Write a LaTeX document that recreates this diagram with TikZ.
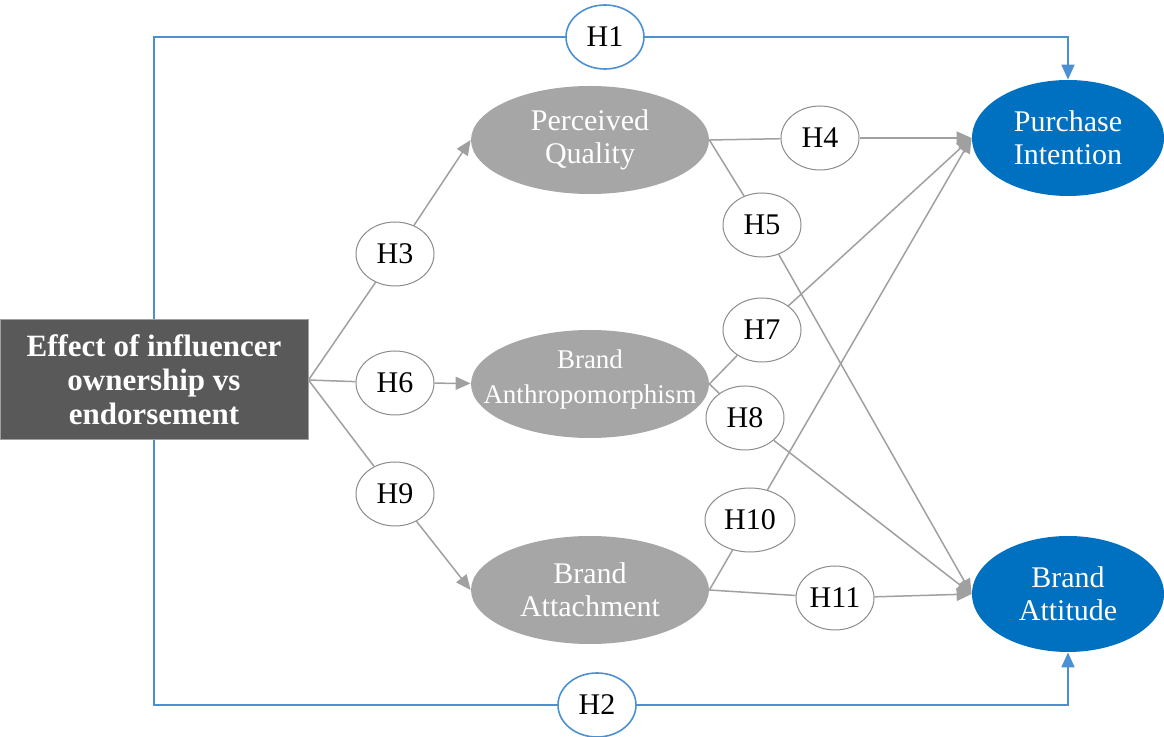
\documentclass[tikz,border=0pt]{standalone}
\usepackage{fontspec}
\setmainfont{Liberation Serif}
\usepackage{tikz}
\usetikzlibrary{shapes.geometric}
\usetikzlibrary{arrows.meta}
\definecolor{boxgray}{HTML}{595959}
\definecolor{ovalgray}{HTML}{A6A6A6}
\definecolor{ovalblue}{HTML}{0070C0}
\definecolor{linegray}{HTML}{A0A0A0}
\definecolor{rimgray}{HTML}{8C8C8C}
\definecolor{lineblue}{HTML}{4A90D2}
\tikzset{
  causebox/.style={rectangle, fill=boxgray, draw=linegray, line width=0.5pt, text=white,
    font=\fontsize{15.5}{17}\selectfont\bfseries, align=center,
    minimum width=154pt, minimum height=60pt, inner sep=0pt},
  mediator/.style={ellipse, fill=ovalgray, text=white, align=center,
    font=\fontsize{15}{16.5}\selectfont, minimum width=119pt, minimum height=54pt,
    inner xsep=-14pt, inner ysep=-8pt},
  outcome/.style={ellipse, fill=ovalblue, text=white, align=center,
    font=\fontsize{15}{16.5}\selectfont, minimum width=96pt, minimum height=58pt,
    inner sep=0pt},
  hyp/.style={ellipse, draw=rimgray, line width=0.5pt, fill=white,
    font=\fontsize{15}{16}\selectfont, minimum width=39pt, minimum height=32pt, inner sep=0pt},
  hypblue/.style={hyp, draw=lineblue, line width=0.8pt},
  link/.style={draw=linegray, line width=0.75pt},
  bluelink/.style={draw=lineblue, line width=0.9pt},
  arrowed/.style={-{Triangle[length=7.5pt,width=6.5pt]}},
}
\newcommand{\hnode}[5][]{\node[hyp,#1] (#2) at (#3,#4) {#5};}

\begin{document}
\begin{tikzpicture}[x=0.5pt,y=-0.5pt]
        \useasboundingbox (0,0) rectangle (1164,737);
        % outer paths (drawn first, behind)
        \hnode[hypblue]{h1}{605}{37}{H1}
        \hnode[hypblue]{h2}{597}{705}{H2}
        % constructs
        \node[causebox] (effect) at (154,380) {Effect of influencer\\ownership vs\\endorsement};
        \node[mediator] (quality) at (590,140) {Perceived\\Quality};
        \node[mediator, font=\fontsize{13.5}{17.5}\selectfont] (anthro) at (590,384) {Brand\\Anthropomorphism\\[-10pt]};
        \node[mediator] (attach) at (590,590) {Brand\\Attachment};
        \node[outcome] (intent) at (1068,138) {Purchase\\Intention};
        \node[outcome] (attitude) at (1068,594) {Brand\\Attitude};
        % hypotheses, first stage
        \hnode{h3}{395}{254}{H3}
        \hnode{h6}{395}{383}{H6}
        \hnode{h9}{395}{494}{H9}
        % hypotheses, second stage
        \hnode{h4}{820}{138}{H4}
        \hnode{h5}{762}{225}{H5}
        \hnode{h7}{762}{330}{H7}
        \hnode{h8}{745}{418}{H8}
        \hnode[minimum width=45pt]{h10}{750}{520}{H10}
        \hnode{h11}{835}{598}{H11}

        % blue direct effects
        \draw[bluelink] (effect.north) |- (h1);
        \draw[bluelink,arrowed] (h1) -| (intent.north);
        \draw[bluelink] (effect.south) |- (h2);
        \draw[bluelink,arrowed] (h2) -| (attitude.south);
        % effect to mediators
        \draw[link] (effect.east) -- (h3);
        \draw[link] (effect.east) -- (h6);
        \draw[link] (effect.east) -- (h9);
        \draw[link,arrowed] (h3) -- (quality.west);
        \draw[link,arrowed] (h6) -- (anthro);
        \draw[link,arrowed] (h9) -- (attach.west);
        % mediators to outcomes
        \draw[link] (quality.east) -- (h4);
        \draw[link,arrowed] (h4) -- (intent.west);
        \draw[link] (quality.east) -- (h5);
        \draw[link,arrowed] (h5) -- (attitude.west);
        \draw[link] (anthro.east) -- (h7);
        \draw[link,arrowed] (h7) -- (intent.west);
        \draw[link] (anthro.east) -- (h8);
        \draw[link,arrowed] (h8) -- (attitude.west);
        \draw[link] (attach.east) -- (h10);
        \draw[link,arrowed] (h10) -- (intent.west);
        \draw[link] (attach.east) -- (h11);
        \draw[link,arrowed] (h11) -- (attitude.west);
\end{tikzpicture}
\end{document}
